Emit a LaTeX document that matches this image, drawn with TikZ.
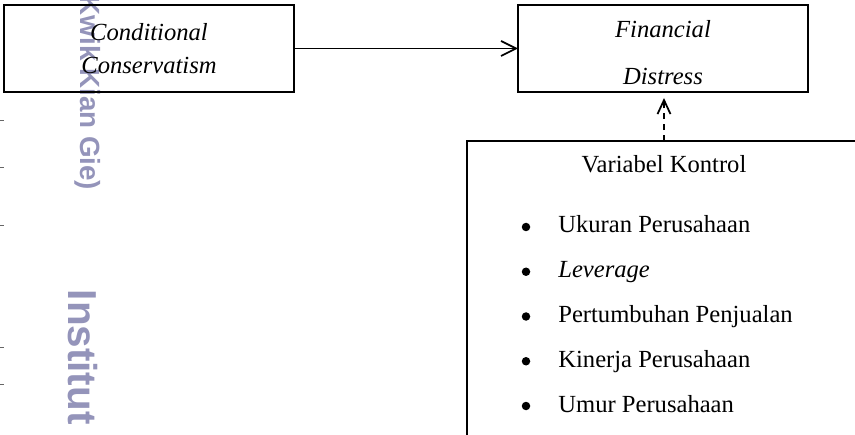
\documentclass[tikz,border=0pt]{standalone}
\usepackage{fontspec}
\setmainfont{Liberation Serif}
\newfontfamily\wmfont{Liberation Sans}
\usetikzlibrary{arrows.meta}
\definecolor{wmcolor}{RGB}{148,148,186}
\tikzset{
	box/.style={draw, line width=1pt, inner sep=0pt, outer sep=0pt, minimum width=5.8cm, minimum height=1.74cm},
	boxtext/.style={align=center, font=\fontsize{14pt}{18.8pt}\selectfont\itshape},
	listtext/.style={inner sep=0pt, font=\fontsize{14pt}{17pt}\selectfont},
	mainarrow/.style={line width=1pt, -{Straight Barb[length=0.3cm, width=0.3cm]}},
	dasharrow/.style={line width=1pt, dash pattern=on 3.4pt off 2.8pt, -{Straight Barb[length=0.28cm, width=0.26cm]}, shorten >=0.12cm},
	watermark/.style={text=wmcolor, rotate=-90, anchor=base west, inner sep=0pt}
}

\begin{document}
\begin{tikzpicture}
			%%%%% START %%%%%
			\useasboundingbox (0, 0) rectangle (17.1, -8.7);
			
			% watermark
			\node[watermark, font=\wmfont\bfseries\fontsize{15.8pt}{18pt}\selectfont] (wmkwik) at (1.6, 0.09) {Kwik Kian Gie)};
			\node[watermark, font=\wmfont\bfseries\fontsize{23pt}{26pt}\selectfont] (wminst) at (1.36, -5.79) {Institut};
			\foreach \y in {-2.4, -3.34, -4.5, -6.94, -7.68}
				\draw[line width=0.4pt, color=black!60] (0, \y) -- (0.08, \y);
			
			% boxes
			\node[box, boxtext] (cc) at (2.98, -0.97) {Conditional\\Conservatism};
			\node[box] (fd) at (13.26, -0.97) {};
			\node[boxtext, font=\fontsize{14pt}{27.3pt}\selectfont\itshape] (fdlabel) at (13.26, -1.052) {Financial\\Distress};
			\node[draw, line width=1pt, inner sep=0pt, outer sep=0pt, minimum width=7.88cm, minimum height=6.08cm] (kv) at (13.28, -5.86) {};
			
			% control variables
			\node[listtext, anchor=base] (kvtitle) at (13.28, -3.46) {Variabel Kontrol};
			\foreach \t [count=\i] in {Ukuran Perusahaan, \textit{Leverage}, Pertumbuhan Penjualan, Kinerja Perusahaan, Umur Perusahaan} {
				\node[listtext, anchor=base west] (item\i) at (11.16, {-4.66-0.895*(\i-1)}) {\t};
				\fill (10.52, {-4.54-0.895*(\i-1)}) circle (0.085);
			}
			
			% arrows
			\draw[mainarrow] (cc.east) -- (fd.west);
			\draw[dasharrow] (kv.north) -- (kv.north |- fd.south);
			
			%%%%% END %%%%%
		\end{tikzpicture}
\end{document}
